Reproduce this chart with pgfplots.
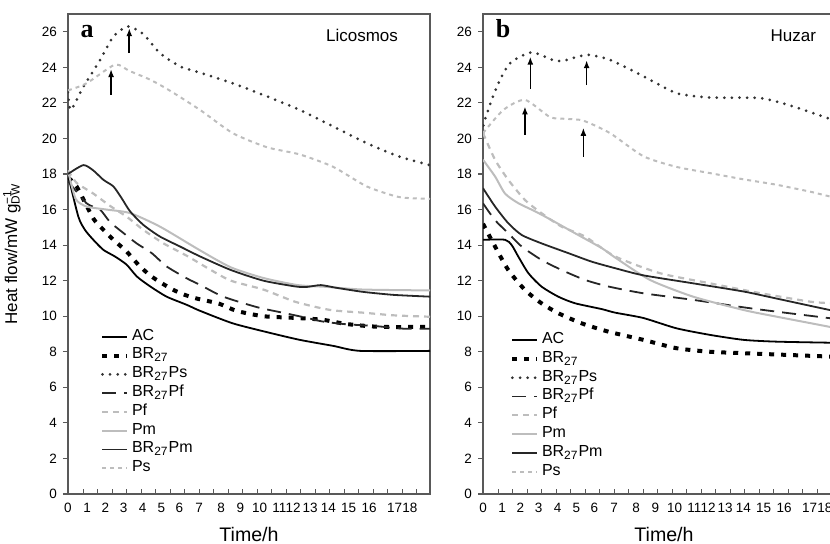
\documentclass[border=0pt]{standalone}
\usepackage{fontspec}
\setmainfont{Liberation Sans}
\newfontfamily\letterfont{Liberation Serif}
\usepackage{pgfplots}
\pgfplotsset{compat=1.18}
\usetikzlibrary{arrows.meta}

\definecolor{axgray}{gray}{0.35}
\definecolor{lightln}{gray}{0.74}

\pgfplotsset{
  panel/.style={
    scale only axis, width=181pt, height=240pt, anchor=south west,
    xmin=0, xmax=18.9, ymin=0, ymax=27,
    ytick={0,2,...,26}, ytick pos=left,
    xtick={0.8,1.557,...,18.3}, xticklabels={}, xtick pos=bottom,
    extra x ticks={0,1,1.95,2.9,3.9,4.87,5.82,6.84,8.0,9.0,10.0,11.03,11.75,12.64,13.6,14.65,15.72,17.05,17.85},
    extra x tick labels={0,1,2,3,4,5,6,7,8,9,10,11,12,13,14,15,16,17,18},
    extra x tick style={major tick length=0pt},
    major tick length=2.5pt,
    y tick style={xshift=-2.5pt},
    tick style={axgray, line width=0.6pt},
    axis line style={axgray, line width=0.9pt},
    tick label style={font=\fontsize{6.75}{8}\selectfont},
    xticklabel style={yshift=-1.1pt},
    yticklabel style={xshift=-2pt},
    /pgf/number format/assume math mode=true,
    xlabel={Time/h},
    xlabel style={at={(axis description cs:0.5,0)}, anchor=base, yshift=-23.75pt, font=\fontsize{9.8}{11}\selectfont},
    clip=true,
    legend cell align=left,
    legend image code/.code={\draw[##1] (0pt,0pt) -- (12.5pt,0pt);},
    legend style={draw=none, fill=none, font=\fontsize{8}{9.5}\selectfont,
      nodes={inner sep=0.5pt, text height=5.6pt, text depth=2.2pt},
      row sep=0.6pt, column sep=0.8pt},
    every axis plot/.append style={no marks, smooth, tension=0.4},
  },
  sAC/.style={black, line width=0.9pt},
  sBR/.style={black, line width=2pt, dash pattern=on 2.5pt off 3.5pt},
  sBRPs/.style={black!80, line width=1.5pt, line cap=round, dash pattern=on 0pt off 3.8pt},
  sBRPf/.style={black!85, line width=0.9pt, dash pattern=on 7pt off 4pt},
  sPf/.style={lightln, line width=1.1pt, dash pattern=on 3pt off 2.5pt},
  sPm/.style={lightln, line width=1pt},
  sBRPm/.style={black!85, line width=0.9pt},
  sPs/.style={lightln, line width=1pt, dash pattern=on 2pt off 2pt},
}

\begin{document}
\begin{tikzpicture}
% ---------------- panel a
\begin{axis}[panel, at={(34pt,25pt)},
  ylabel={Heat flow/mW g\rlap{\textsuperscript{−1}}\textsubscript{DW}},
  ylabel style={at={(axis description cs:-0.155,0.5)}, anchor=center, font=\fontsize{8.5}{10}\selectfont},
  legend style={at={(axis description cs:0.072,0.355)}, anchor=north west}]
\addplot[sAC] coordinates {(0,17.95) (0.54,15.6) (0.89,14.85) (1.32,14.3) (1.85,13.73) (2.45,13.36) (3.06,12.9) (3.6,12.23) (4.3,11.67) (5.15,11.1) (6.2,10.64) (6.9,10.3) (8.6,9.6) (10.4,9.1) (12.1,8.67) (13.85,8.33) (15.25,8.05) (18.9,8.05)};
\addlegendentry{AC}
\addplot[sBR] coordinates {(0,17.8) (0.45,17.3) (1.32,15.5) (1.85,14.86) (2.37,14.3) (3.06,13.64) (3.67,12.9) (4.28,12.3) (4.89,11.86) (5.5,11.48) (6.1,11.2) (6.7,11.0) (7.9,10.7) (8.8,10.3) (10.2,10.0) (11.95,9.9) (13.3,9.8) (14.55,9.56) (16.3,9.4) (18.9,9.4)};
\addlegendentry{BR\textsubscript{27}}
\addplot[sBRPs] coordinates {(0,22.6) (0.15,21.6) (0.8,22.9) (1.67,24.4) (2.35,25.7) (3.1,26.3) (3.9,25.9) (4.8,24.8) (5.85,24.05) (6.9,23.7) (8.6,23.1) (10.4,22.36) (12.1,21.6) (13.85,20.67) (15.6,19.73) (17.3,18.98) (18.9,18.5)};
\addlegendentry{BR\textsubscript{27}Ps}
\addplot[sBRPf] coordinates {(0,17.6) (0.97,16.35) (1.67,16.0) (2.19,15.3) (2.8,14.76) (3.58,14.1) (4.37,13.55) (5.15,12.8) (6.2,12.13) (6.9,11.76) (8.1,11.1) (9.9,10.5) (11.2,10.2) (12.5,9.9) (13.3,9.7) (14.5,9.55) (16,9.45) (17.5,9.3) (18.9,9.3)};
\addlegendentry{BR\textsubscript{27}Pf}
\addplot[sPf] coordinates {(0,18.2) (0.45,17.5) (1.32,16.9) (2.2,16.2) (3.06,15.6) (3.93,14.86) (4.98,14.1) (6.2,13.4) (7.3,12.7) (8.5,12.0) (10.2,11.5) (11.9,10.8) (13.7,10.35) (15.4,10.2) (17,10.05) (18.9,9.97)};
\addlegendentry{Pf}
\addplot[sPm] coordinates {(0,18.2) (0.4,16.6) (0.97,16.17) (2.0,16.0) (3.24,15.8) (4.8,15.04) (6.9,13.7) (8.5,12.75) (10.2,12.15) (12,11.75) (13.5,11.65) (15.4,11.5) (18.9,11.45)};
\addlegendentry{Pm}
\addplot[sBRPm] coordinates {(0,18.0) (0.8,18.5) (1.32,18.2) (1.85,17.67) (2.37,17.3) (2.8,16.64) (3.24,15.9) (3.93,15.14) (4.8,14.48) (5.85,13.92) (6.9,13.36) (8.5,12.6) (10.2,12.0) (11.9,11.67) (12.5,11.65) (13.2,11.75) (14,11.6) (15.4,11.37) (17,11.2) (18.9,11.1)};
\addlegendentry{BR\textsubscript{27}Pm}
\addplot[sPs] coordinates {(0,22.7) (0.97,23.1) (2.45,24.15) (3.2,23.8) (4.3,23.3) (5.3,22.7) (6.9,21.6) (8.6,20.3) (10.4,19.5) (12.1,19.1) (13.85,18.4) (15.6,17.3) (17.3,16.7) (18.9,16.6)};
\addlegendentry{Ps}
\draw[-{Latex[length=4pt,width=3pt]}, line width=0.8pt] (3.2,24.8) -- (3.2,26.2);
\draw[-{Latex[length=4pt,width=3pt]}, line width=0.8pt] (2.25,22.45) -- (2.25,23.9);
\node[anchor=base, font=\letterfont\bfseries\fontsize{13}{15}\selectfont] at (1.0,25.66) {a};
\node[anchor=base, font=\fontsize{8.5}{10}\selectfont] at (15.35,25.45) {Licosmos};
\end{axis}
% ---------------- panel b
\begin{axis}[panel, at={(241.5pt,25pt)},
  legend style={at={(axis description cs:0.058,0.348)}, anchor=north west}]
\addplot[sAC] coordinates {(0,14.3) (1.15,14.3) (1.5,14.0) (1.84,13.36) (2.37,12.42) (3.05,11.67) (3.93,11.1) (4.8,10.73) (6.2,10.4) (6.9,10.2) (8.37,9.9) (10.1,9.32) (11.85,8.95) (13.6,8.67) (15.3,8.57) (18.1,8.51) (18.9,8.5)};
\addlegendentry{AC}
\addplot[sBR] coordinates {(0,15.2) (0.63,13.92) (1.32,12.6) (2.19,11.48) (3.05,10.73) (3.93,10.17) (5.15,9.6) (6.55,9.13) (8.37,8.67) (10.1,8.2) (11.85,8.0) (13.6,7.92) (18.1,7.73) (18.9,7.7)};
\addlegendentry{BR\textsubscript{27}}
\addplot[sBRPs] coordinates {(0,20.3) (0.05,20.9) (0.72,22.9) (1.41,24.23) (2.54,24.84) (3.67,24.4) (4.19,24.37) (5.41,24.7) (6.63,24.42) (8.37,23.5) (10.1,22.55) (11.85,22.3) (14.46,22.27) (16.2,21.8) (18.1,21.1) (18.9,20.8)};
\addlegendentry{BR\textsubscript{27}Ps}
\addplot[sBRPf] coordinates {(0,16.35) (0.63,15.4) (1.32,14.67) (2.02,13.92) (3.05,13.17) (4.1,12.6) (5.33,12.04) (6.55,11.67) (8.37,11.29) (10.97,10.92) (13.6,10.5) (15.3,10.26) (18.1,9.89) (18.9,9.8)};
\addlegendentry{BR\textsubscript{27}Pf}
\addplot[sPf] coordinates {(0,20.3) (0.63,18.8) (1.32,17.67) (2.19,16.54) (3.05,15.8) (4.1,15.04) (5.33,14.48) (6.9,13.36) (9.24,12.42) (11.85,11.85) (14.46,11.3) (17.07,10.82) (18.1,10.73) (18.9,10.6)};
\addlegendentry{Pf}
\addplot[sPm] coordinates {(0,18.8) (0.63,17.86) (1.15,16.9) (1.84,16.36) (2.72,15.9) (3.59,15.4) (4.8,14.67) (6.2,13.83) (6.9,13.3) (8.72,12.04) (10.97,11.1) (13.6,10.35) (15.3,9.98) (18.1,9.4) (18.9,9.2)};
\addlegendentry{Pm}
\addplot[sBRPm] coordinates {(0,17.2) (0.63,16.17) (1.32,15.23) (2.02,14.57) (3.05,14.1) (4.45,13.55) (5.67,13.07) (6.9,12.7) (8.37,12.3) (10.97,11.85) (13.6,11.39) (15.3,11.0) (18.1,10.35) (18.9,10.2)};
\addlegendentry{BR\textsubscript{27}Pm}
\addplot[sPs] coordinates {(0,20.3) (1.06,21.6) (2.19,22.17) (3.5,21.2) (4.37,21.1) (5.24,21.0) (6.63,20.3) (8.37,19.0) (10.1,18.4) (11.85,18.05) (13.6,17.7) (15.3,17.4) (17.1,17.0) (18.1,16.74) (18.9,16.6)};
\addlegendentry{Ps}
\draw[-{Latex[length=4pt,width=3pt]}, line width=0.8pt] (2.47,22.8) -- (2.47,24.6);
\draw[-{Latex[length=4pt,width=3pt]}, line width=0.8pt] (5.41,23.0) -- (5.41,24.4);
\draw[-{Latex[length=4pt,width=3pt]}, line width=0.8pt] (2.19,20.2) -- (2.19,21.8);
\draw[-{Latex[length=4pt,width=3pt]}, line width=0.8pt] (5.24,18.98) -- (5.24,20.6);
\node[anchor=base, font=\letterfont\bfseries\fontsize{13}{15}\selectfont] at (1.05,25.66) {b};
\node[anchor=base, font=\fontsize{8.5}{10}\selectfont] at (16.2,25.45) {Huzar};
\end{axis}
\pgfresetboundingbox
\path[use as bounding box] (0,0) rectangle (415pt,272pt);
\end{tikzpicture}
\end{document}
